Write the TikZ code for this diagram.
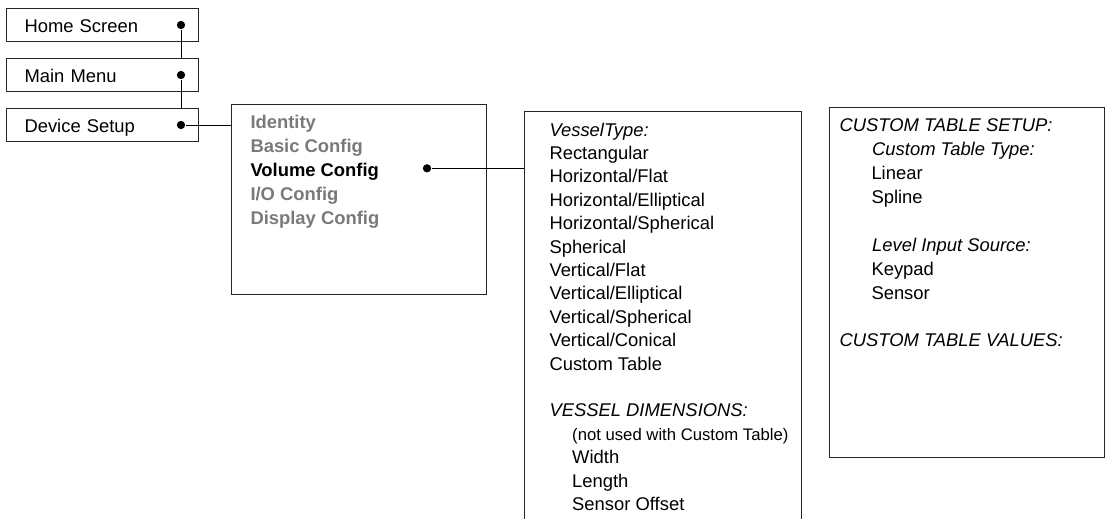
\documentclass[tikz,border=0pt]{standalone}
\usepackage{fontspec}
\setmainfont{Liberation Sans}
\usetikzlibrary{positioning}

\tikzset{
  menubox/.style={draw=black!85, minimum width=192pt, minimum height=33pt,
    text width=156pt, inner xsep=18pt, inner ysep=0pt, align=left,
    text height=15.5pt, text depth=0pt, font=\fontsize{18.4}{22}\selectfont},
  panel/.style={draw=black!85, anchor=north west, inner sep=0pt},
  item/.style={anchor=base west, inner sep=0pt, font=\fontsize{18.4}{22}\selectfont},
  smallitem/.style={item, font=\fontsize{16.7}{20}\selectfont},
  head/.style={item, font=\fontsize{18.4}{22}\selectfont\itshape},
  dimmed/.style={item, font=\fontsize{18.4}{22}\selectfont\bfseries, text=black!52},
  picked/.style={item, font=\fontsize{18.4}{22}\selectfont\bfseries},
  dot/.style={circle, fill, inner sep=0pt, minimum size=8.3pt}
}

\begin{document}
\begin{tikzpicture}[x=1pt, y=-1pt, line width=1pt]
\useasboundingbox (0,0) rectangle (1105,519);

% menu path
\node[menubox, anchor=north west] (home) at (6,8) {Home Screen};
\node[menubox, below=16pt of home] (main) {Main Menu};
\node[menubox, below=16pt of main] (dev) {Device Setup};

\node[dot] (hdot) at ([xshift=-18pt]home.east) {};
\node[dot] (mdot) at ([xshift=-18pt]main.east) {};
\node[dot] (ddot) at ([xshift=-18pt]dev.east) {};

% device setup list
\node[panel, minimum width=255pt, minimum height=190pt] (conf) at (231,104) {};
\node[dimmed] (ident) at (250,128.5) {Identity};
\node[dimmed] (basic) at (250,152.5) {Basic Config};
\node[picked] (volume) at (250,176.5) {Volume Config};
\node[dimmed] (io) at (250,200.5) {I/O Config};
\node[dimmed] (disp) at (250,224.5) {Display Config};
\node[dot] (vdot) at (427,168.3) {};

% volume config
\node[panel, minimum width=277pt, minimum height=430pt] (vessel) at (524,111) {};
\node[head] (vtype) at (549,136) {VesselType:};
\foreach \t [count=\i from 1] in {Rectangular, Horizontal/Flat, Horizontal/Elliptical,
    Horizontal/Spherical, Spherical, Vertical/Flat, Vertical/Elliptical,
    Vertical/Spherical, Vertical/Conical, Custom Table}
  \node[item] (vt\i) at (549,136+23.4*\i) {\t};
\node[head] (vdim) at (549,416.8) {VESSEL DIMENSIONS:};
\node[smallitem] (notused) at (571.7,440.2) {(not used with Custom Table)};
\node[item] (width) at (571.7,463.6) {Width};
\node[item] (length) at (571.7,487) {Length};
\node[item] (offset) at (571.7,510.4) {Sensor Offset};

% custom table
\node[panel, minimum width=275pt, minimum height=350pt] (custom) at (829,107) {};
\node[head] (ctsetup) at (839,131.8) {CUSTOM TABLE SETUP:};
\node[head] (cttype) at (871.7,155.7) {Custom Table Type:};
\node[item] (linear) at (871,179.6) {Linear};
\node[item] (spline) at (871,203.5) {Spline};
\node[head] (lsrc) at (871.7,251.3) {Level Input Source:};
\node[item] (keypad) at (871,275.2) {Keypad};
\node[item] (sensor) at (871,299.1) {Sensor};
\node[head] (ctvalues) at (839,346.9) {CUSTOM TABLE VALUES:};

\draw (hdot) -- (hdot |- main.north);
\draw (mdot) -- (mdot |- dev.north);
\draw (ddot) -- (ddot -| conf.west);
\draw (vdot) -- (vdot -| vessel.west);
\end{tikzpicture}
\end{document}
